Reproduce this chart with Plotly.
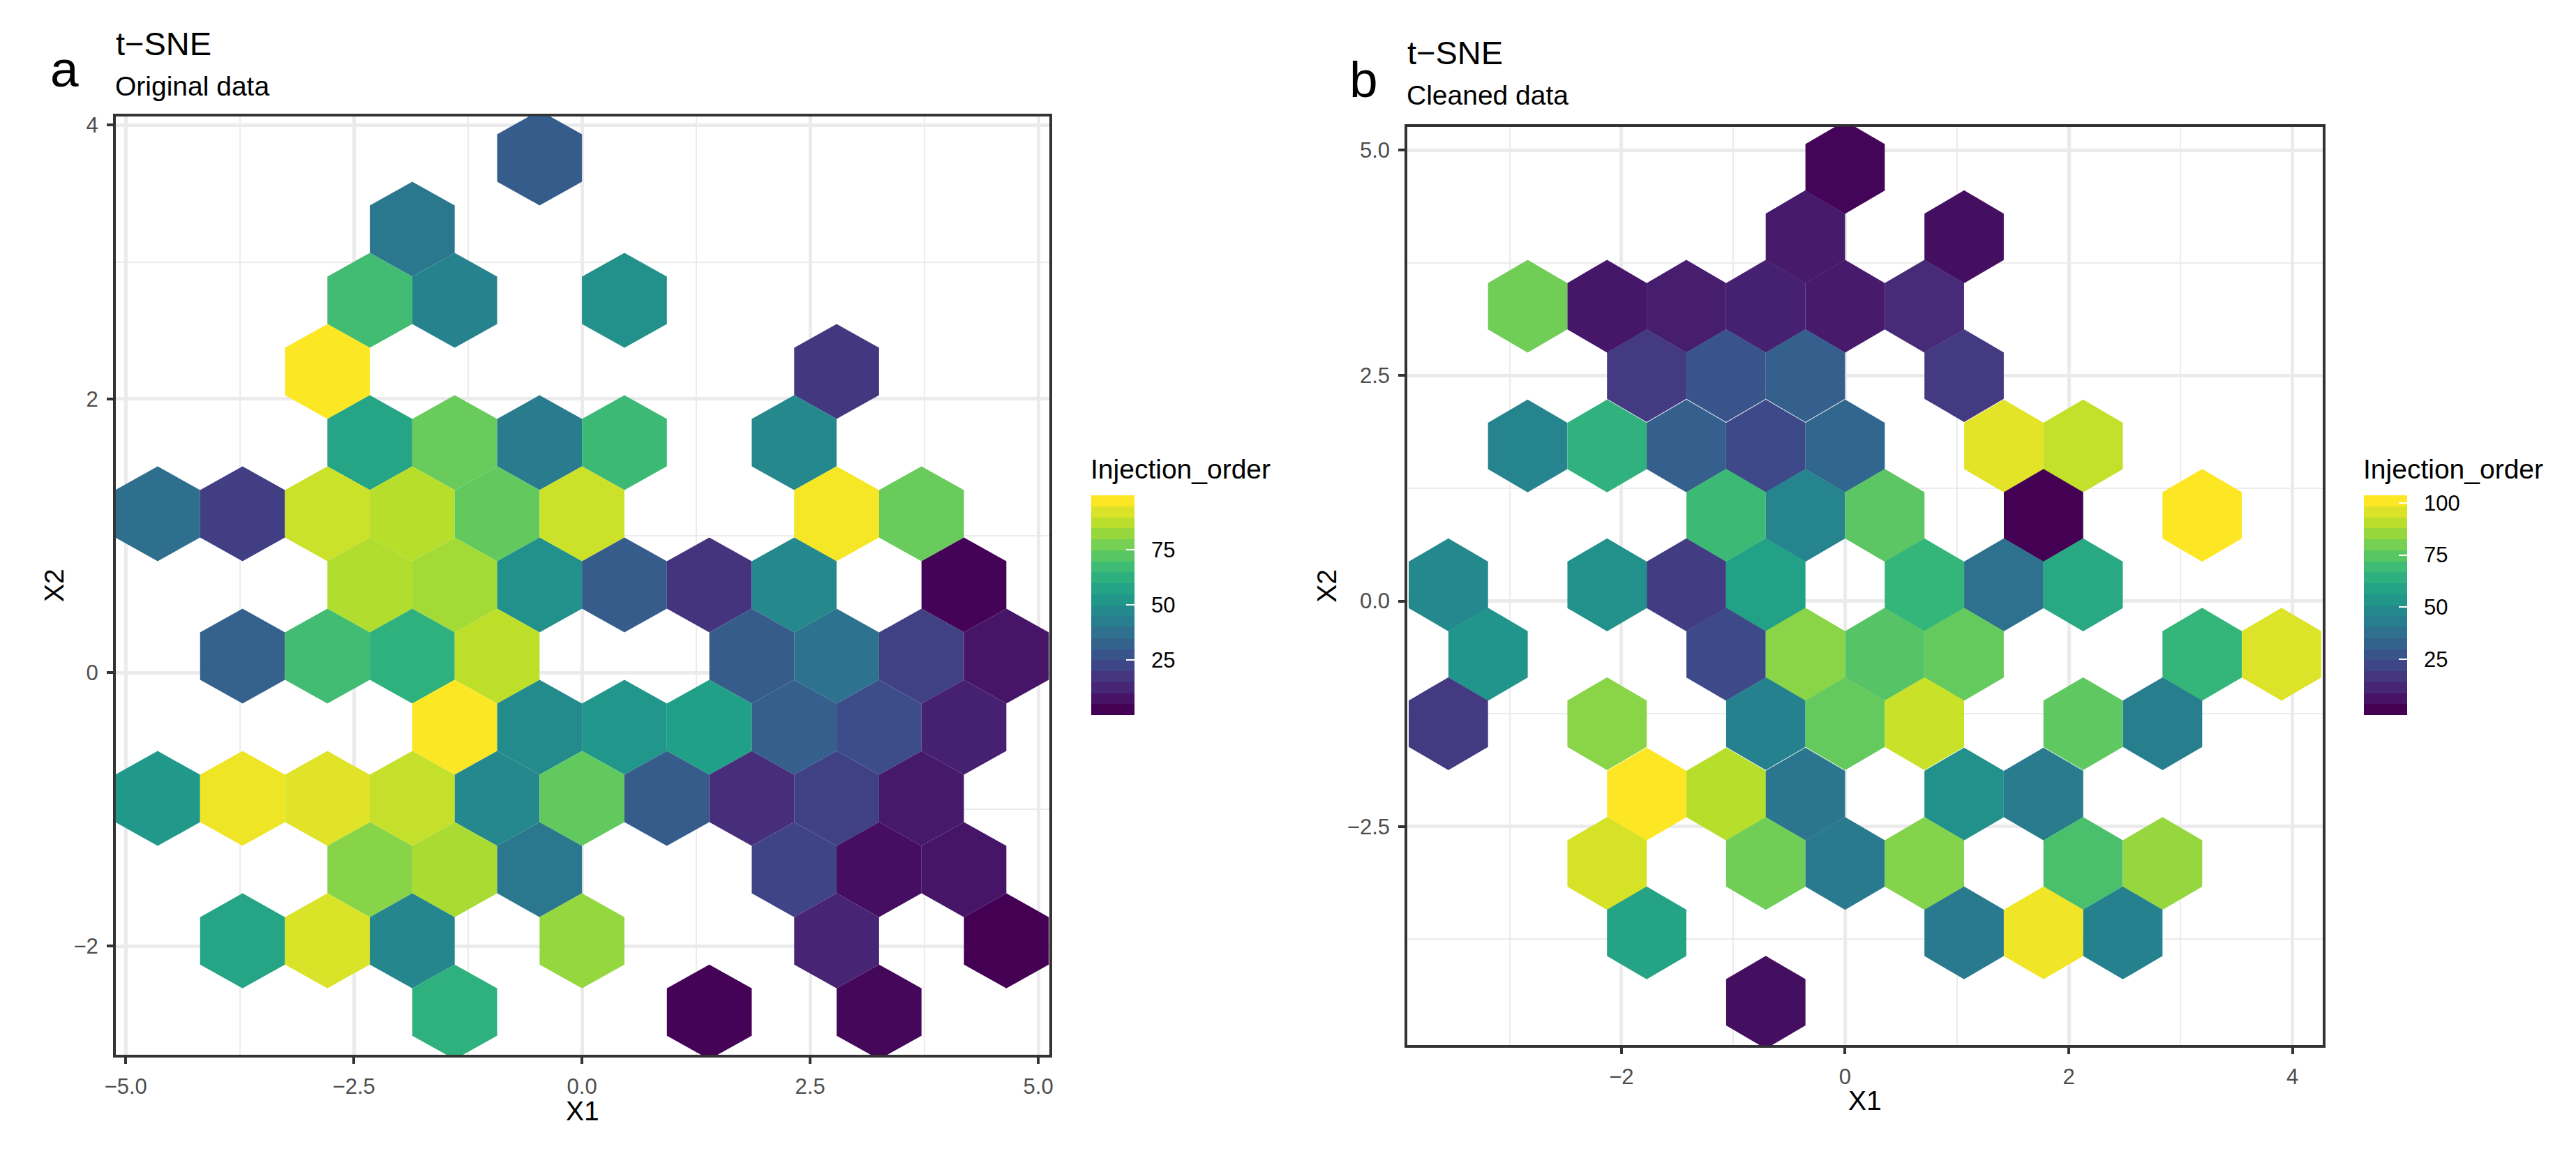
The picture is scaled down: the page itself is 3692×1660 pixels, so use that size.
import plotly.graph_objects as go
from plotly.colors import get_colorscale, sample_colorscale

# ---------------- data ----------------
# Panel a: original data (hexbin centres, mean Injection_order per hex)
a_x1 = [-0.465,
        -1.86,
        -2.325, -1.395, 0.465,
        -2.79, 2.79,
        -2.325, -1.395, -0.465, 0.465, 2.325,
        -4.65, -3.72, -2.79, -1.86, -0.93, 0.0, 2.79, 3.72,
        -2.325, -1.395, -0.465, 0.465, 1.395, 2.325, 4.185,
        -3.72, -2.79, -1.86, -0.93, 1.86, 2.79, 3.72, 4.65,
        -1.395, -0.465, 0.465, 1.395, 2.325, 3.255, 4.185,
        -4.65, -3.72, -2.79, -1.86, -0.93, 0.0, 0.93, 1.86, 2.79, 3.72,
        -2.325, -1.395, -0.465, 2.325, 3.255, 4.185,
        -3.72, -2.79, -1.86, 0.0, 2.79, 4.65,
        -1.395, 1.395, 3.255]
a_x2 = [3.76,
        3.24,
        2.72, 2.72, 2.72,
        2.20, 2.20,
        1.68, 1.68, 1.68, 1.68, 1.68,
        1.16, 1.16, 1.16, 1.16, 1.16, 1.16, 1.16, 1.16,
        0.64, 0.64, 0.64, 0.64, 0.64, 0.64, 0.64,
        0.12, 0.12, 0.12, 0.12, 0.12, 0.12, 0.12, 0.12,
        -0.40, -0.40, -0.40, -0.40, -0.40, -0.40, -0.40,
        -0.92, -0.92, -0.92, -0.92, -0.92, -0.92, -0.92, -0.92, -0.92, -0.92,
        -1.44, -1.44, -1.44, -1.44, -1.44, -1.44,
        -1.96, -1.96, -1.96, -1.96, -1.96, -1.96,
        -2.48, -2.48, -2.48]
a_val = [30,
         40,
         68, 45, 50,
         97, 18,
         58, 75, 42, 67, 47,
         37, 20, 90, 87, 74, 90, 96, 75,
         86, 84, 50, 30, 17, 47, 3,
         32, 68, 63, 88, 30, 38, 21, 8,
         97, 48, 52, 56, 31, 25, 11,
         53, 95, 93, 89, 47, 74, 30, 15, 21, 9,
         80, 85, 40, 22, 6, 8,
         58, 92, 46, 82, 12, 2.5,
         63, 3, 4]

# Panel b: cleaned data
b_x1 = [0.0,
        -0.355, 1.064,
        -2.838, -2.128, -1.419, -0.709, 0.0, 0.709,
        -1.774, -1.064, -0.355, 1.064,
        -2.838, -2.128, -1.419, -0.709, 0.0, 1.419, 2.128,
        -1.064, -0.355, 0.355, 1.774, 3.192,
        -3.547, -2.128, -1.419, -0.709, 0.709, 1.419, 2.128,
        -3.192, -1.064, -0.355, 0.355, 1.064, 3.192, 3.902,
        -3.547, -2.128, -0.709, 0.0, 0.709, 2.128, 2.838,
        -1.774, -1.064, -0.355, 1.064, 1.774,
        -2.128, -0.709, 0.0, 0.709, 2.128, 2.838,
        -1.774, 1.064, 1.774, 2.483,
        -0.709]
b_x2 = [4.81,
        4.04, 4.04,
        3.27, 3.27, 3.27, 3.27, 3.27, 3.27,
        2.50, 2.50, 2.50, 2.50,
        1.72, 1.72, 1.72, 1.72, 1.72, 1.72, 1.72,
        0.95, 0.95, 0.95, 0.95, 0.95,
        0.18, 0.18, 0.18, 0.18, 0.18, 0.18, 0.18,
        -0.59, -0.59, -0.59, -0.59, -0.59, -0.59, -0.59,
        -1.36, -1.36, -1.36, -1.36, -1.36, -1.36, -1.36,
        -2.14, -2.14, -2.14, -2.14, -2.14,
        -2.91, -2.91, -2.91, -2.91, -2.91, -2.91,
        -3.68, -3.68, -3.68, -3.68,
        -4.45]
b_val = [2,
         8, 5,
         79, 7, 9, 10, 8, 13,
         18, 27, 31, 18,
         46, 65, 31, 23, 34, 97, 92,
         69, 46, 75, 1, 101,
         48, 51, 19, 58, 67, 38, 61,
         53, 23, 83, 74, 77, 67, 96,
         18, 83, 45, 77, 93, 76, 44,
         101, 90, 40, 51, 43,
         95, 79, 42, 82, 72, 85,
         59, 42, 99, 45,
         5]

# hex grid spacing (data units) and colour limits
a_grid = (0.930, 0.520)
b_grid = (0.7094, 0.772)
a_lim = (2.5, 97.2)
b_lim = (0.9, 101.0)

# axes
a_xrange = [-5.110, 5.122]
a_yrange = [-2.793, 4.065]
b_xrange = [-3.914, 4.271]
b_yrange = [-4.926, 5.261]

a_xticks = [-5.0, -2.5, 0.0, 2.5, 5.0]
a_xlabels = ["\u22125.0", "\u22122.5", "0.0", "2.5", "5.0"]
a_xminor = [-3.75, -1.25, 1.25, 3.75]
a_yticks = [-2, 0, 2, 4]
a_ylabels = ["\u22122", "0", "2", "4"]
a_yminor = [-1, 1, 3]

b_xticks = [-2, 0, 2, 4]
b_xlabels = ["\u22122", "0", "2", "4"]
b_xminor = [-3, -1, 1, 3]
b_yticks = [-2.5, 0.0, 2.5, 5.0]
b_ylabels = ["\u22122.5", "0.0", "2.5", "5.0"]
b_yminor = [-3.75, -1.25, 1.25, 3.75]

a_cbar_ticks = [25, 50, 75]
b_cbar_ticks = [25, 50, 75, 100]

# ---------------- figure ----------------
W, H = 3692, 1660
FONT = "Liberation Sans, Arial, Helvetica, sans-serif"
VIR = get_colorscale("Viridis")
TICK_SIZE, TEXT_SIZE, TITLE_SIZE, TAG_SIZE = 31, 39, 47, 73


def vcol(f):
    f = min(max(f, 0.0), 1.0)
    return sample_colorscale(VIR, [f])[0]


NBIN = 20
stepped = []
for i in range(NBIN):
    c = vcol(i / (NBIN - 1))
    stepped.append([i / NBIN, c])
    stepped.append([(i + 1) / NBIN, c])

fig = go.Figure()


def add_hexes(xs, ys, vals, grid, lim, xa, ya, cax):
    dx, dy = grid
    hx, ry = dx / 2, dy * 2 / 3
    for x, y, v in zip(xs, ys, vals):
        px = [x, x + hx, x + hx, x, x - hx, x - hx, x]
        py = [y + ry, y + ry / 2, y - ry / 2, y - ry, y - ry / 2, y + ry / 2, y + ry]
        col = vcol((v - lim[0]) / (lim[1] - lim[0]))
        fig.add_trace(go.Scatter(x=px, y=py, mode="lines", fill="toself",
                                 fillcolor=col, line=dict(width=0, color=col),
                                 hoverinfo="skip", showlegend=False,
                                 xaxis=xa, yaxis=ya))
    # invisible trace carrying the colour bar
    fig.add_trace(go.Scatter(x=xs[:2], y=ys[:2], mode="markers",
                             marker=dict(color=list(lim), coloraxis=cax, size=1, opacity=0),
                             hoverinfo="skip", showlegend=False, xaxis=xa, yaxis=ya))


add_hexes(a_x1, a_x2, a_val, a_grid, a_lim, "x", "y", "coloraxis")
add_hexes(b_x1, b_x2, b_val, b_grid, b_lim, "x2", "y2", "coloraxis2")


def px2x(p):
    return p / W


def px2y(p):
    return 1 - p / H


def axis(domain, rng, tv, tt, minor, anchor):
    return dict(domain=domain, range=rng, anchor=anchor,
                tickmode="array", tickvals=tv, ticktext=tt,
                ticks="outside", ticklen=9, tickwidth=3.5, tickcolor="#333333",
                tickfont=dict(family=FONT, size=TICK_SIZE, color="#4d4d4d"),
                ticklabelstandoff=6,
                showline=True, linecolor="#333333", linewidth=3.5, mirror=True,
                showgrid=True, gridcolor="#ebebeb", gridwidth=4.8,
                minor=dict(tickmode="array", tickvals=minor, showgrid=True,
                           gridcolor="#ebebeb", gridwidth=2.4, ticks=""),
                zeroline=False, layer="below traces", fixedrange=True)


A_L, A_R, A_T, A_B = 150.7, 1497.0, 163.0, 1511.7
B_L, B_R, B_T, B_B = 2013.0, 3333.0, 178.0, 1498.0

fig.update_layout(
    xaxis=axis([px2x(A_L), px2x(A_R)], a_xrange, a_xticks, a_xlabels, a_xminor, "y"),
    yaxis=axis([px2y(A_B), px2y(A_T)], a_yrange, a_yticks, a_ylabels, a_yminor, "x"),
    xaxis2=axis([px2x(B_L), px2x(B_R)], b_xrange, b_xticks, b_xlabels, b_xminor, "y2"),
    yaxis2=axis([px2y(B_B), px2y(B_T)], b_yrange, b_yticks, b_ylabels, b_yminor, "x2"),
)


def cbar_axis(lim, ticks, xleft):
    half = (lim[1] - lim[0]) / (NBIN - 1) / 2
    return dict(cmin=lim[0] - half, cmax=lim[1] + half, colorscale=stepped,
                colorbar=dict(x=px2x(xleft), xanchor="left", xpad=0, ypad=0,
                              y=px2y((708 + 1023) / 2), yanchor="middle",
                              len=315, lenmode="pixels", thickness=62,
                              thicknessmode="pixels", outlinewidth=0, borderwidth=0,
                              tickmode="array", tickvals=ticks,
                              ticktext=["  " + str(t) for t in ticks],
                              ticks="inside", ticklen=12, tickwidth=2,
                              tickcolor="white",
                              tickfont=dict(family=FONT, size=TICK_SIZE, color="black")))


fig.update_layout(coloraxis=cbar_axis(a_lim, a_cbar_ticks, 1557),
                  coloraxis2=cbar_axis(b_lim, b_cbar_ticks, 3392))

ann = []


def text(t, xp, yp, size, xanchor="left", angle=0, color="black"):
    ann.append(dict(text=t, x=px2x(xp), y=px2y(yp), xref="paper", yref="paper",
                    xanchor=xanchor, yanchor="middle", showarrow=False, textangle=angle,
                    font=dict(family=FONT, size=size, color=color)))


# panel tags, titles, subtitles
text("a", 54, 94.5, TAG_SIZE)
text("t\u2212SNE", 149, 58.5, TITLE_SIZE)
text("Original data", 148, 119.3, TEXT_SIZE)
text("b", 1927, 109.5, TAG_SIZE)
text("t\u2212SNE", 2011, 71.5, TITLE_SIZE)
text("Cleaned data", 2010, 133.3, TEXT_SIZE)
# axis titles
text("X1", (A_L + A_R) / 2, 1592, TEXT_SIZE, "center")
text("X2", 62, (A_T + A_B) / 2, TEXT_SIZE, "center", -90)
text("X1", (B_L + B_R) / 2, 1577, TEXT_SIZE, "center")
text("X2", 1897, (B_T + B_B) / 2, TEXT_SIZE, "center", -90)
# legend titles
text("Injection_order", 1554, 670, TEXT_SIZE)
text("Injection_order", 3389, 670, TEXT_SIZE)

fig.update_layout(annotations=ann, width=W, height=H, autosize=False,
                  margin=dict(l=0, r=0, t=0, b=0),
                  paper_bgcolor="white", plot_bgcolor="white",
                  font=dict(family=FONT), showlegend=False)

fig.write_html("out.html", config={"displayModeBar": False},
               post_script="document.body.style.margin='0';document.body.style.overflow='hidden';")
